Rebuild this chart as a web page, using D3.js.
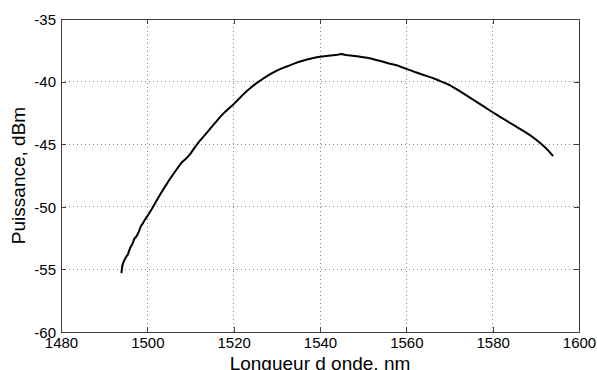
<!DOCTYPE html>
<html>
<head>
<meta charset="utf-8">
<script src="https://cdn.jsdelivr.net/npm/d3@7"></script>
<style>
  html, body { margin: 0; padding: 0; background: #fff; }
  svg { display: block; }
  text { font-family: "Liberation Sans", Arial, sans-serif; fill: #000; }
</style>
</head>
<body>
<svg id="chart" width="597" height="370"></svg>
<script>
// Wavelength (nm)
const wavelength = [
  1494, 1494.2, 1494.5, 1495, 1495.5, 1496, 1496.5, 1497, 1497.5, 1498, 1498.5, 1499, 1499.5, 1500,
  1501, 1502, 1503, 1504, 1505, 1506, 1507, 1508, 1509,
  1510, 1511, 1512, 1513, 1514, 1515, 1516, 1517, 1518, 1519, 1520, 1521, 1522, 1523, 1524, 1525,
  1526, 1527, 1528, 1529, 1530, 1531, 1532, 1533, 1534, 1535, 1536, 1537, 1538, 1539, 1540, 1541,
  1542, 1543, 1544, 1545, 1546, 1547, 1548, 1549, 1550, 1551, 1552, 1553, 1554, 1555, 1556, 1557,
  1558, 1559, 1560, 1561, 1562, 1563, 1564, 1565, 1566, 1567, 1568, 1569, 1570, 1571, 1572, 1573,
  1574, 1575, 1576, 1577, 1578, 1579, 1580, 1581, 1582, 1583, 1584, 1585, 1586, 1587, 1588, 1589,
  1590, 1591, 1592, 1593, 1594
];
// Power (dBm)
const power = [
  -55.3, -54.7, -54.4, -54.05, -53.8, -53.3, -53.0, -52.55, -52.35, -52.0, -51.55, -51.3, -51.0, -50.75,
  -50.2, -49.6, -49.0, -48.45, -47.9, -47.4, -46.9, -46.45, -46.15,
  -45.75, -45.25, -44.8, -44.4, -44.0, -43.58, -43.17, -42.78, -42.42, -42.1, -41.8, -41.45, -41.1, -40.77, -40.47, -40.2,
  -39.95, -39.72, -39.5, -39.3, -39.12, -38.96, -38.83, -38.7, -38.56, -38.44, -38.33, -38.24, -38.15, -38.07, -38.01, -37.97,
  -37.93, -37.9, -37.86, -37.8, -37.88, -37.91, -37.95, -38.0, -38.05, -38.1, -38.18, -38.27, -38.36, -38.45, -38.55, -38.63,
  -38.72, -38.85, -38.98, -39.1, -39.23, -39.35, -39.47, -39.58, -39.7, -39.83, -39.98, -40.12, -40.27, -40.48, -40.68, -40.9,
  -41.12, -41.34, -41.56, -41.78, -42.0, -42.23, -42.45, -42.66, -42.87, -43.08, -43.29, -43.5, -43.71, -43.92, -44.13, -44.36,
  -44.62, -44.9, -45.2, -45.55, -45.95
];
const xTicks = [1480, 1500, 1520, 1540, 1560, 1580, 1600];
const yTicks = [-60, -55, -50, -45, -40, -35];
const xLabel = "Longueur d onde, nm";
const yLabel = "Puissance, dBm";

const W = 597, H = 370;
const margin = { left: 61, top: 19, right: 18, bottom: 38 };
const pw = W - margin.left - margin.right;
const ph = H - margin.top - margin.bottom;

const svg = d3.select("#chart");
const g = svg.append("g").attr("transform", `translate(${margin.left},${margin.top})`);

const x = d3.scaleLinear().domain([1480, 1600]).range([0, pw]);
const y = d3.scaleLinear().domain([-60, -35]).range([ph, 0]);

// grid
const grid = g.append("g").attr("class", "grid");
grid.selectAll("line.vx").data(xTicks.slice(1, -1)).enter().append("line")
  .attr("x1", d => x(d)).attr("x2", d => x(d)).attr("y1", 0).attr("y2", ph)
  .attr("stroke", "#888").attr("stroke-width", 1).attr("stroke-dasharray", "1,3")
  .attr("shape-rendering", "crispEdges");
grid.selectAll("line.hy").data(yTicks.slice(1, -1)).enter().append("line")
  .attr("y1", d => y(d)).attr("y2", d => y(d)).attr("x1", 0).attr("x2", pw)
  .attr("stroke", "#888").attr("stroke-width", 1).attr("stroke-dasharray", "1,3")
  .attr("shape-rendering", "crispEdges");

// axes (inward ticks)
const axisColor = "#404040";
const fmt = d => String(d);
function styleAxis(sel) {
  sel.select(".domain").remove();
  sel.selectAll(".tick line").attr("stroke", axisColor).attr("shape-rendering", "crispEdges");
  sel.selectAll("text").style("font-size", "15px").style("font-family", "'Liberation Sans', Arial, sans-serif").attr("fill", "#000");
}
const xb = g.append("g").attr("transform", `translate(0,${ph})`)
  .call(d3.axisBottom(x).tickValues(xTicks).tickFormat(fmt).tickSizeInner(-5).tickSizeOuter(0).tickPadding(6));
styleAxis(xb);
xb.selectAll("text").attr("y", 16).attr("dy", 0);

const xt = g.append("g")
  .call(d3.axisTop(x).tickValues(xTicks).tickFormat("").tickSizeInner(-5).tickSizeOuter(0));
styleAxis(xt);

const yl = g.append("g")
  .call(d3.axisLeft(y).tickValues(yTicks).tickFormat(fmt).tickSizeInner(-5).tickSizeOuter(0));
styleAxis(yl);
yl.selectAll("text").attr("x", -5).attr("dy", "0.35em");

const yr = g.append("g").attr("transform", `translate(${pw},0)`)
  .call(d3.axisRight(y).tickValues(yTicks).tickFormat("").tickSizeInner(-5).tickSizeOuter(0));
styleAxis(yr);

// box
g.append("rect").attr("x", 0).attr("y", 0).attr("width", pw).attr("height", ph)
  .attr("fill", "none").attr("stroke", axisColor).attr("stroke-width", 1)
  .attr("shape-rendering", "crispEdges");

// curve
const data = wavelength.map((w, i) => [w, power[i]]);
g.append("path").datum(data)
  .attr("fill", "none").attr("stroke", "#000").attr("stroke-width", 2)
  .attr("stroke-linejoin", "round")
  .attr("d", d3.line().x(d => x(d[0])).y(d => y(d[1])));

// labels
svg.append("text").attr("x", margin.left + pw / 2).attr("y", 370)
  .attr("text-anchor", "middle").style("font-size", "19px").text(xLabel);
svg.append("text").attr("transform", `translate(25,${margin.top + ph / 2}) rotate(-90)`)
  .attr("text-anchor", "middle").style("font-size", "19px").text(yLabel);
</script>
</body>
</html>
